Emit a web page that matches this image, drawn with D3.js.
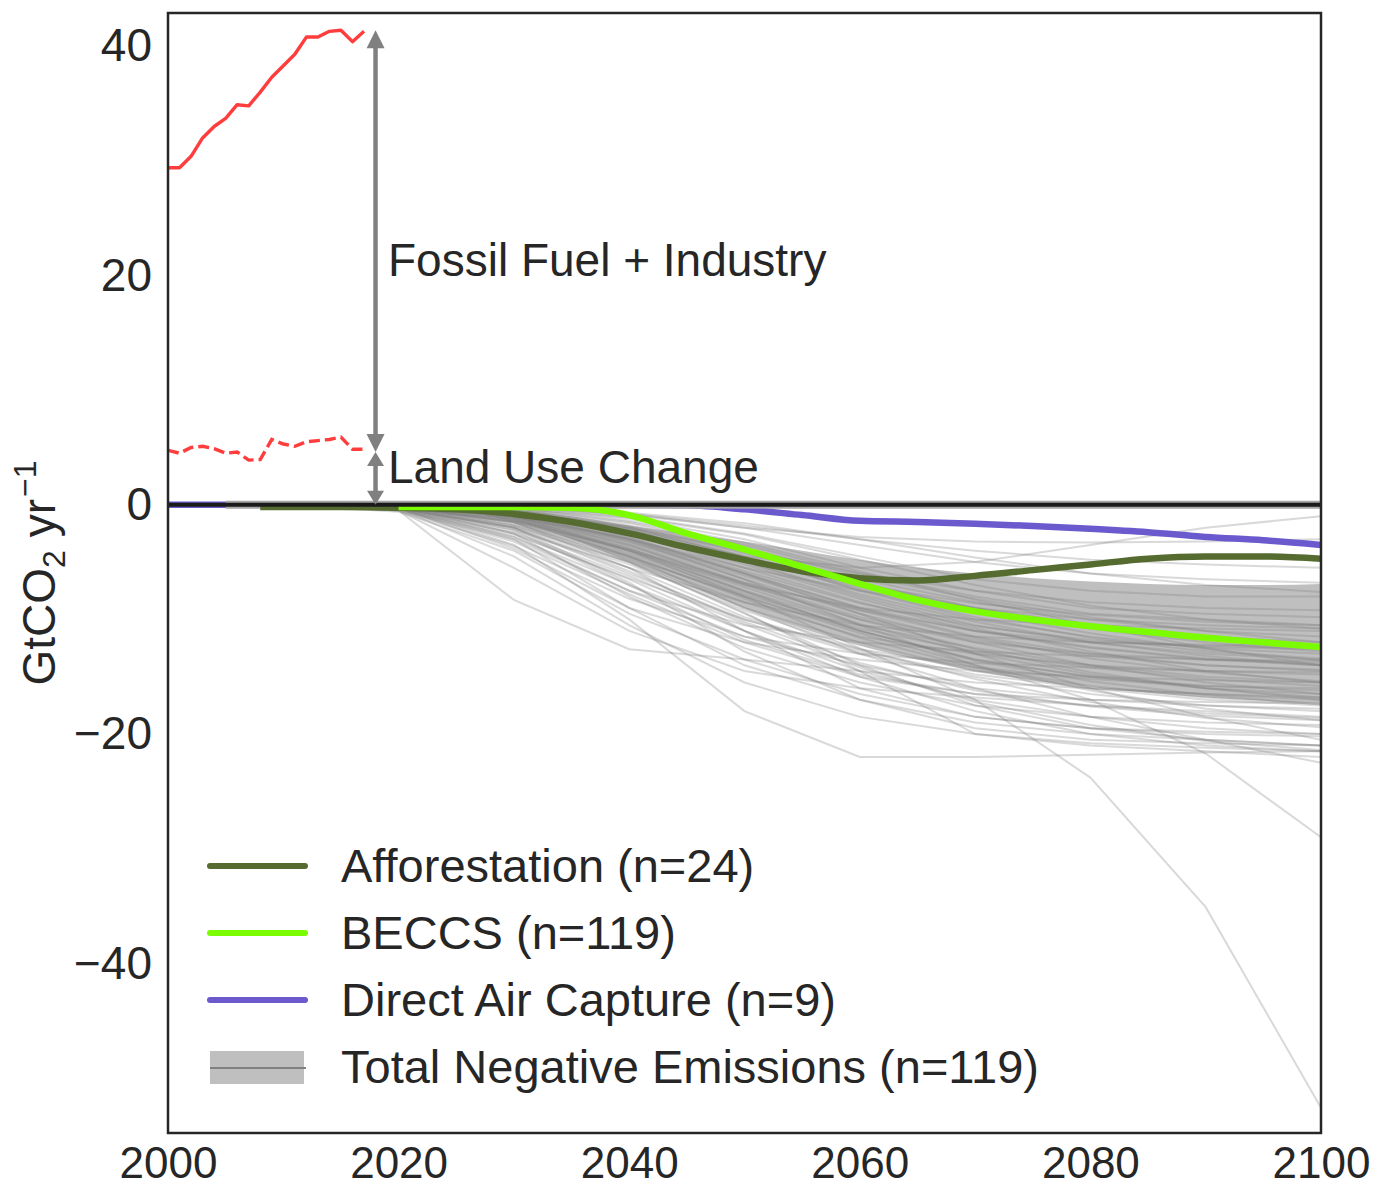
<!DOCTYPE html>
<html>
<head>
<meta charset="utf-8">
<script src="https://cdn.jsdelivr.net/npm/d3@7"></script>
<style>
  html, body { margin: 0; padding: 0; background: #fff; }
  svg text { font-family: "Liberation Sans", Arial, sans-serif; fill: #262626; }
</style>
</head>
<body>
<svg id="chart" width="1391" height="1188"></svg>
<script>
// ---- Historical emissions (GtCO2/yr) ----
const histYears = [2000,2001,2002,2003,2004,2005,2006,2007,2008,2009,2010,2011,2012,2013,2014,2015,2016,2017];
const totalHist = [29.4,29.4,30.4,32.0,33.0,33.7,34.9,34.8,36.0,37.3,38.3,39.3,40.8,40.8,41.3,41.4,40.4,41.3];
const lucHist   = [4.75,4.5,5.0,5.1,4.9,4.5,4.6,3.9,3.95,5.7,5.3,5.1,5.5,5.6,5.7,5.9,4.85,4.85];

// Arrow annotation values (year, top, split)
const arrowYear = 2018;
const arrowTop = 41.4;
const arrowSplit = 4.6;

// ---- Mean removal pathways by technology ----
const afforYears = [2008,2010,2015,2020,2025,2030,2035,2040,2045,2050,2055,2060,2065,2070,2075,2080,2085,2090,2095,2100];
const afforestation = [-0.2,-0.2,-0.2,-0.25,-0.4,-0.8,-1.5,-2.5,-3.7,-4.8,-5.8,-6.4,-6.6,-6.2,-5.7,-5.2,-4.7,-4.5,-4.5,-4.7];

const beccsYears = [2020,2025,2030,2035,2040,2045,2050,2055,2060,2065,2070,2075,2080,2085,2090,2095,2100];
const beccs = [-0.2,-0.2,-0.2,-0.25,-0.9,-2.5,-3.9,-5.4,-6.9,-8.3,-9.3,-10.0,-10.6,-11.1,-11.6,-12.0,-12.4];

const dacYears = [2000,2005,2010,2020,2030,2040,2045,2050,2055,2060,2065,2070,2075,2080,2085,2090,2095,2100];
const dac = [0,0,0,0,0,0,-0.05,-0.4,-0.9,-1.4,-1.5,-1.65,-1.85,-2.1,-2.4,-2.8,-3.1,-3.5];

// ---- Total negative emissions: shaded range ----
const bandYears = [2020,2025,2030,2035,2040,2045,2050,2055,2060,2065,2070,2075,2080,2085,2090,2095,2100];
const bandUpper = [0,-0.1,-0.4,-1.0,-1.8,-2.5,-3.2,-4.0,-4.8,-5.5,-6.0,-6.4,-6.7,-6.9,-7.0,-7.0,-6.9];
const bandLower = [-0.1,-0.5,-1.5,-3.0,-5.0,-7.0,-9.0,-10.8,-12.3,-13.5,-14.5,-15.3,-15.9,-16.4,-16.8,-17.1,-17.3];

// ---- Total negative emissions: individual scenarios ----
const scenarioYears = [2005,2010,2020,2030,2040,2050,2060,2070,2080,2090,2100];
const scenarios = [
  [0,0,-0.1,-0.5,-2.0,-4.5,-7.0,-9.0,-10.5,-11.5,-12.0],
  [0,0,-0.1,-0.8,-3.0,-6.0,-9.0,-11.5,-13.0,-14.0,-14.5],
  [0,0,0,-0.3,-1.5,-3.5,-6.0,-8.0,-9.5,-10.0,-10.5],
  [0,0,-0.2,-1.5,-4.5,-8.0,-11.0,-13.5,-15.0,-16.0,-16.5],
  [0,0,0,-0.2,-1.0,-2.5,-4.5,-6.5,-7.5,-8.0,-8.0],
  [0,0,-0.3,-2.0,-6.0,-10.0,-13.0,-15.0,-16.5,-17.5,-18.0],
  [0,0,0,-0.5,-2.5,-5.5,-8.5,-11.0,-12.5,-13.5,-14.0],
  [0,0,-0.1,-1.0,-3.5,-7.0,-10.0,-12.0,-13.0,-13.5,-13.8],
  [0,0,0,-0.4,-1.8,-4.0,-6.5,-8.5,-10.0,-11.0,-11.5],
  [0,0,-0.2,-1.2,-4.0,-7.5,-10.5,-12.5,-14.0,-15.0,-15.5],
  [0,0,0,-0.1,-0.8,-2.0,-3.5,-5.0,-6.0,-6.5,-6.8],
  [0,0,-0.5,-3.0,-7.5,-11.5,-14.0,-16.0,-17.0,-17.5,-17.8],
  [0,0,-0.1,-0.6,-2.2,-5.0,-8.0,-10.5,-12.0,-13.0,-13.5],
  [0,0,0,-0.3,-1.2,-3.0,-5.5,-7.5,-9.0,-9.5,-9.8],
  [0,0,-0.2,-1.8,-5.0,-9.0,-12.0,-14.5,-16.0,-17.0,-17.5],
  [0,0,-0.1,-0.9,-3.2,-6.5,-9.5,-12.0,-14.0,-15.5,-16.5],
  [0,0,0,-0.5,-2.0,-4.5,-7.5,-10.0,-11.5,-12.5,-13.0],
  [0,0,-0.3,-2.5,-6.5,-11.0,-14.5,-17.0,-18.5,-19.5,-20.0],
  [0,0,-0.1,-1.0,-3.0,-5.5,-7.5,-9.0,-10.0,-10.5,-10.8],
  [0,0,0,-0.2,-0.8,-1.8,-3.0,-4.0,-4.8,-5.2,-5.5],
  [0,0,-0.5,-8.3,-12.6,-13.5,-14.5,-15.5,-16.0,-16.5,-17.0],
  [0,0,-0.3,-3.5,-10.0,-18.0,-22.0,-22.0,-21.8,-21.6,-21.5],
  [0,0,-0.2,-1.0,-4.0,-8.0,-12.5,-17.0,-23.8,-35.1,-52.6],
  [0,0,-0.1,-0.8,-3.0,-6.5,-10.5,-14.0,-17.0,-21.7,-29.0],
  [0,0,-0.4,-2.8,-7.0,-11.0,-15.0,-18.0,-20.0,-21.0,-21.5],
  [0,0,-0.2,-1.5,-5.0,-9.5,-14.0,-17.5,-19.5,-20.5,-21.0],
  [0,0,-0.6,-4.0,-9.5,-13.5,-16.5,-18.5,-19.5,-20.0,-20.2],
  [0,0,-0.1,-1.2,-4.5,-9.0,-13.0,-16.0,-18.5,-20.5,-22.5],
  [0,0,-0.1,-0.6,-2.5,-4.5,-5.5,-5.0,-3.5,-2.0,-1.0],
  [0,0,0,-0.2,-0.9,-2.0,-2.8,-3.2,-3.3,-3.2,-3.0],
  [0,0,-0.2,-1.3,-4.0,-7.0,-9.0,-10.0,-10.5,-10.8,-11.0],
  [0,0,-0.1,-0.7,-2.8,-6.0,-9.0,-11.0,-12.0,-12.2,-12.3],
  [0,0,0,-0.4,-1.6,-3.8,-6.2,-8.2,-9.8,-11.0,-12.0],
  [0,0,-0.3,-2.2,-5.5,-8.5,-10.5,-11.5,-12.0,-12.3,-12.5],
  [0,0,-0.2,-1.6,-4.8,-8.5,-11.5,-13.0,-14.0,-14.5,-14.8],
  [0,0,-0.1,-1.1,-3.8,-7.5,-11.0,-13.5,-15.0,-15.8,-16.2],
  [0,0,0,-0.3,-1.4,-3.3,-5.8,-8.3,-10.5,-12.5,-14.0],
  [0,0,-0.4,-3.2,-7.8,-12.0,-15.0,-16.5,-17.0,-17.2,-17.3],
  [0,0,-0.2,-1.4,-4.2,-7.8,-10.8,-12.8,-14.2,-15.2,-15.8],
  [0,0,-0.1,-0.8,-2.6,-5.2,-8.2,-10.8,-12.8,-14.5,-15.5],
  [0,0,0,-0.6,-2.2,-4.8,-7.0,-8.6,-9.6,-10.2,-10.5],
  [0,0,-0.3,-1.9,-5.2,-9.2,-12.6,-15.2,-17.2,-18.6,-19.4],
  [0,0,-0.2,-1.0,-3.4,-6.8,-9.8,-11.8,-13.2,-14.0,-14.4],
  [0,0,-0.1,-0.5,-1.9,-4.2,-6.8,-9.0,-10.8,-12.0,-12.8],
  [0,0,-0.5,-3.6,-8.2,-11.5,-13.0,-13.8,-14.2,-14.5,-14.6],
  [0,0,-0.2,-1.7,-4.6,-8.0,-11.2,-14.0,-16.2,-17.8,-18.8],
  [0,0,-0.1,-0.9,-2.9,-5.8,-8.6,-10.6,-11.8,-12.4,-12.6],
  [0,0,0,-0.3,-1.1,-2.6,-4.8,-7.0,-8.8,-10.0,-10.8],
  [0,0,-0.2,-1.4,-3.9,-6.8,-9.2,-11.0,-12.4,-13.4,-14.0],
  [0,0,-0.3,-2.0,-5.8,-10.2,-13.8,-16.2,-17.6,-18.4,-18.8],
  [0,0,-0.1,-1.1,-3.6,-6.9,-10.0,-12.6,-14.6,-16.0,-17.0],
  [0,0,0,-0.5,-2.1,-4.6,-7.4,-9.8,-11.6,-12.8,-13.4],
  [0,0,-0.2,-1.5,-4.4,-8.2,-11.6,-14.2,-15.8,-16.8,-17.4],
  [0,0,-0.4,-2.6,-6.4,-10.0,-12.6,-14.2,-15.2,-15.8,-16.0],
  [0,0,-0.1,-0.7,-2.4,-5.0,-7.8,-10.2,-12.0,-13.2,-14.0],
  [0,0,-0.2,-1.2,-3.8,-7.2,-10.4,-13.0,-14.8,-16.0,-16.8],
  [0,0,0,-0.2,-0.7,-1.6,-3.0,-4.6,-6.0,-7.0,-7.6],
  [0,0,-0.3,-2.4,-6.2,-10.4,-14.2,-17.2,-19.2,-20.6,-21.4],
  [0,0,-0.1,-1.0,-3.2,-6.2,-9.2,-11.6,-13.4,-14.6,-15.4],
  [0,0,-0.2,-1.3,-4.0,-7.6,-11.0,-13.6,-15.4,-16.6,-17.4],
  [0,0,-0.5,-5.5,-11.0,-14.5,-16.0,-16.8,-17.5,-18.0,-18.5],
  [0,0,-0.2,-1.8,-5.0,-9.4,-14.5,-20.0,-21.0,-21.5,-22.0],
  [0,0,-0.1,-0.6,-2.0,-4.0,-6.0,-7.5,-8.5,-9.0,-9.2],
  [0,0,-0.3,-2.0,-5.5,-9.8,-12.8,-14.8,-16.0,-16.5,-16.8],
  [0,0,-0.3,-3.0,-9.0,-14.0,-17.0,-19.0,-20.0,-20.5,-21.0],
  [0,0,-0.4,-4.5,-10.5,-15.5,-18.5,-20.0,-20.8,-21.2,-21.5],
  [0,0,-0.2,-2.5,-8.0,-12.5,-15.5,-17.5,-18.5,-19.0,-19.2],
  [0,0,-0.3,-3.8,-9.0,-12.0,-13.5,-14.5,-15.0,-15.3,-15.5],
  [0,0,-0.2,-2.0,-6.8,-12.8,-17.0,-19.5,-20.5,-20.8,-21.0],
  [0,0,-0.1,-1.5,-5.5,-11.0,-16.0,-18.5,-19.5,-19.8,-20.0],
  [0,0,-0.2,-2.2,-7.0,-11.8,-14.8,-16.5,-17.5,-18.2,-18.6],
  [0,0,-0.1,-1.0,-3.0,-6.0,-9.5,-13.0,-16.0,-18.5,-20.5],
  [0,0,-0.3,-2.8,-7.5,-10.5,-12.0,-12.8,-13.2,-13.5,-13.6],
  [0,0,-0.1,-0.8,-2.4,-4.8,-7.2,-9.4,-11.2,-12.6,-13.6]
];

// ---- Axis ticks and legend ----
const xTicks = [2000,2020,2040,2060,2080,2100];
const yTicks = [40,20,0,-20,-40];
const legendItems = [
  {label: "Afforestation (n=24)", kind: "line", color: "#556b2f"},
  {label: "BECCS (n=119)", kind: "line", color: "#7cfc00"},
  {label: "Direct Air Capture (n=9)", kind: "line", color: "#6a5acd"},
  {label: "Total Negative Emissions (n=119)", kind: "band", color: "#808080"}
];

// ---- Layout ----
const svg = d3.select("#chart");
const plot = {left: 168, right: 1321, top: 13, bottom: 1133};
const x = d3.scaleLinear().domain([2000, 2100]).range([plot.left, plot.right]);
const y = d3.scaleLinear().domain([-54.8, 42.9]).range([plot.bottom, plot.top]);

svg.append("defs").append("clipPath").attr("id", "plotclip")
  .append("rect").attr("x", plot.left).attr("y", plot.top)
  .attr("width", plot.right - plot.left).attr("height", plot.bottom - plot.top);

const g = svg.append("g").attr("clip-path", "url(#plotclip)");

const zip = (xs, ys) => xs.map((v, i) => [v, ys[i]]);
const lineLin = d3.line().x(d => x(d[0])).y(d => y(d[1]));
const lineSmooth = d3.line().x(d => x(d[0])).y(d => y(d[1])).curve(d3.curveMonotoneX);

// shaded range
const area = d3.area()
  .x((d, i) => x(bandYears[i]))
  .y0((d, i) => y(bandLower[i]))
  .y1((d, i) => y(bandUpper[i]))
  .curve(d3.curveMonotoneX);
g.append("path").datum(bandYears).attr("d", area)
  .attr("fill", "#808080").attr("fill-opacity", 0.5).attr("stroke", "none");

// individual scenario lines
g.selectAll("path.scen").data(scenarios).enter().append("path")
  .attr("class", "scen")
  .attr("d", s => lineLin(zip(scenarioYears, s)))
  .attr("fill", "none").attr("stroke", "#808080")
  .attr("stroke-opacity", 0.3).attr("stroke-width", 2);

// direct air capture (its flat early part sits under the zero line)
g.append("path").attr("d", lineSmooth(zip(dacYears, dac)))
  .attr("fill", "none").attr("stroke", "#6a5acd").attr("stroke-width", 6.5);

// zero reference line (halo)
g.append("line").attr("x1", x(2005)).attr("x2", x(2100)).attr("y1", y(0)).attr("y2", y(0))
  .attr("stroke", "#a6a6a6").attr("stroke-width", 8);

// afforestation and BECCS means
g.append("path").attr("d", lineSmooth(zip(afforYears, afforestation)))
  .attr("fill", "none").attr("stroke", "#556b2f").attr("stroke-width", 6.5);
g.append("path").attr("d", lineSmooth(zip(beccsYears, beccs)))
  .attr("fill", "none").attr("stroke", "#7cfc00").attr("stroke-width", 6.5);

// zero line
g.append("line").attr("x1", plot.left).attr("x2", plot.right).attr("y1", y(0)).attr("y2", y(0))
  .attr("stroke", "#1a1a1a").attr("stroke-width", 4);

// historical emissions
g.append("path").attr("d", lineLin(zip(histYears, totalHist)))
  .attr("fill", "none").attr("stroke", "#ff3d3d").attr("stroke-width", 3.4)
  .attr("stroke-linejoin", "round");
g.append("path").attr("d", lineLin(zip(histYears, lucHist)))
  .attr("fill", "none").attr("stroke", "#ff3d3d").attr("stroke-width", 3.4)
  .attr("stroke-dasharray", "11,5");

// double-headed arrows
function arrow(v0, v1, headLen, headW) {
  const ax = x(arrowYear);
  const yA = y(v0), yB = y(v1); // yA bottom end, yB top end
  const grp = g.append("g").attr("fill", "#808080").attr("stroke", "none");
  grp.append("line").attr("x1", ax).attr("x2", ax)
    .attr("y1", yA - headLen + 1).attr("y2", yB + headLen - 1)
    .attr("stroke", "#808080").attr("stroke-width", 4.5);
  grp.append("path").attr("d", `M${ax},${yB} L${ax - headW / 2},${yB + headLen} L${ax + headW / 2},${yB + headLen} Z`);
  grp.append("path").attr("d", `M${ax},${yA} L${ax - headW / 2},${yA - headLen} L${ax + headW / 2},${yA - headLen} Z`);
}
arrow(arrowSplit, arrowTop, 18, 18);
arrow(0, arrowSplit, 14, 17);

svg.append("text").attr("x", 388).attr("y", y(20)).attr("font-size", 46)
  .text("Fossil Fuel + Industry");
svg.append("text").attr("x", 388).attr("y", 483).attr("font-size", 46)
  .text("Land Use Change");

// frame
svg.append("rect").attr("x", plot.left).attr("y", plot.top)
  .attr("width", plot.right - plot.left).attr("height", plot.bottom - plot.top)
  .attr("fill", "none").attr("stroke", "#262626").attr("stroke-width", 2.5);

// axes (labels only)
const xAxis = d3.axisBottom(x).tickValues(xTicks).tickFormat(d3.format("d")).tickSize(0).tickPadding(12);
const xg = svg.append("g").attr("transform", `translate(0,${plot.bottom})`).call(xAxis);
xg.select(".domain").remove();
xg.selectAll("text").attr("font-size", 44).attr("dy", null).attr("y", 45)
  .attr("font-family", "Liberation Sans, Arial, sans-serif").attr("fill", "#262626");

const yAxis = d3.axisLeft(y).tickValues(yTicks).tickFormat(d => d < 0 ? "\u2212" + Math.abs(d) : d).tickSize(0).tickPadding(16);
const yg = svg.append("g").attr("transform", `translate(${plot.left},0)`).call(yAxis);
yg.select(".domain").remove();
yg.selectAll("text").attr("font-size", 46).attr("font-family", "Liberation Sans, Arial, sans-serif").attr("fill", "#262626");

// y axis title
const yt = svg.append("text").attr("transform", `translate(55,573) rotate(-90)`)
  .attr("text-anchor", "middle").attr("font-size", 46);
yt.append("tspan").text("GtCO");
yt.append("tspan").attr("font-size", 32).attr("dy", 10).text("2");
yt.append("tspan").attr("dy", -10).text(" yr");
yt.append("tspan").attr("font-size", 32).attr("dy", -19).attr("dx", 2).text("\u22121");

// legend
const leg = svg.append("g");
legendItems.forEach((it, i) => {
  const cy = 866 + i * 67;
  if (it.kind === "line") {
    leg.append("line").attr("x1", 210).attr("x2", 305).attr("y1", cy).attr("y2", cy)
      .attr("stroke", it.color).attr("stroke-width", 6).attr("stroke-linecap", "round");
  } else {
    leg.append("rect").attr("x", 210).attr("y", cy - 16).attr("width", 94).attr("height", 33)
      .attr("fill", it.color).attr("fill-opacity", 0.5);
    leg.append("line").attr("x1", 210).attr("x2", 306).attr("y1", cy + 1).attr("y2", cy + 1)
      .attr("stroke", it.color).attr("stroke-width", 2);
  }
  leg.append("text").attr("x", 341).attr("y", cy + 16).attr("font-size", 47).text(it.label);
});
</script>
</body>
</html>
